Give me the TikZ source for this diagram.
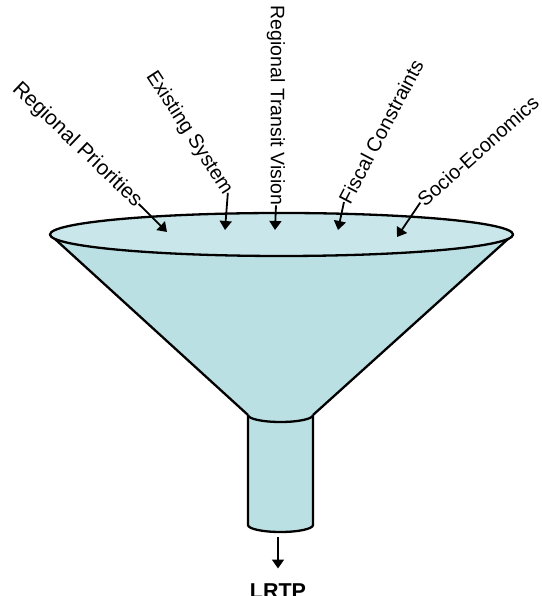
\documentclass[tikz,border=0pt]{standalone}
\usepackage{fontspec}
\setmainfont{Liberation Sans}
\usetikzlibrary{arrows.meta}

\definecolor{funnelbody}{RGB}{187,224,228}
\definecolor{funneltop}{RGB}{201,231,234}

\tikzset{
  outline/.style={line width=2.3pt, line join=round},
  inflow/.style={line width=1.8pt, -{Triangle[length=9pt,width=12pt]}},
  factor/.style={inner sep=0pt, font=\fontsize{20}{24}\selectfont}
}

\begin{document}
\begin{tikzpicture}[x=1pt,y=1pt]
\useasboundingbox (0,0) rectangle (541,596);

\pgfmathsetmacro{\rxtop}{231.5}
\pgfmathsetmacro{\rytop}{21.5}
\pgfmathsetmacro{\rxneck}{32.5}
\pgfmathsetmacro{\ryneck}{7}

\coordinate (c) at (281.5,361.5);
\coordinate (l) at (50,361.5);
\coordinate (r) at (513,361.5);
\coordinate (nl) at (248,181);
\coordinate (nr) at (313,181);
\coordinate (bl) at (248,71);

% cone and spout
\fill[funnelbody] (l) -- (nl) arc[start angle=180, end angle=360, x radius=\rxneck, y radius=\ryneck] -- (r) -- cycle;
\draw[outline] (l) -- (nl) (r) -- (nr);
\filldraw[outline, fill=funnelbody] (nl) -- (bl) arc[start angle=180, end angle=360, x radius=\rxneck, y radius=\ryneck] -- (nr);
\draw[outline] (nl) arc[start angle=180, end angle=360, x radius=\rxneck, y radius=\ryneck];

% mouth
\filldraw[outline, fill=funneltop] (c) ellipse[x radius=\rxtop, y radius=\rytop];

% what goes in
\node[factor, font=\fontsize{21}{25}\selectfont, rotate=-43.7] (prio) at (77,451) {Regional Priorities};
\node[factor, rotate=-57] (exist) at (189,463) {Existing System};
\node[factor, font=\fontsize{19.5}{23}\selectfont, rotate=-90] (vision) at (276,490.5) {Regional Transit Vision};
\node[factor, rotate=62.3] (fiscal) at (381,464.5) {Fiscal Constraints};
\node[factor, rotate=41.8] (socio) at (478,445) {Socio-Economics};

\coordinate (p1) at (167,364);
\coordinate (p2) at (225,366);
\coordinate (p3) at (275,366);
\coordinate (p4) at (338,366);
\coordinate (p5) at (397,359);

\draw[inflow] (prio.east) -- (p1);
\draw[inflow] (exist.east) -- (p2);
\draw[inflow] (vision.east) -- (p3);
\draw[inflow] (fiscal.west) -- (p4);
\draw[inflow] (socio.west) -- (p5);

% what comes out
\coordinate (drip) at (278,59);
\node[inner sep=0pt, anchor=base, font=\bfseries\fontsize{21.5}{26}\selectfont] (lrtp) at (278,-2) {LRTP};
\draw[inflow, shorten >=14.5pt] (drip) -- (lrtp.north);

\end{tikzpicture}
\end{document}
